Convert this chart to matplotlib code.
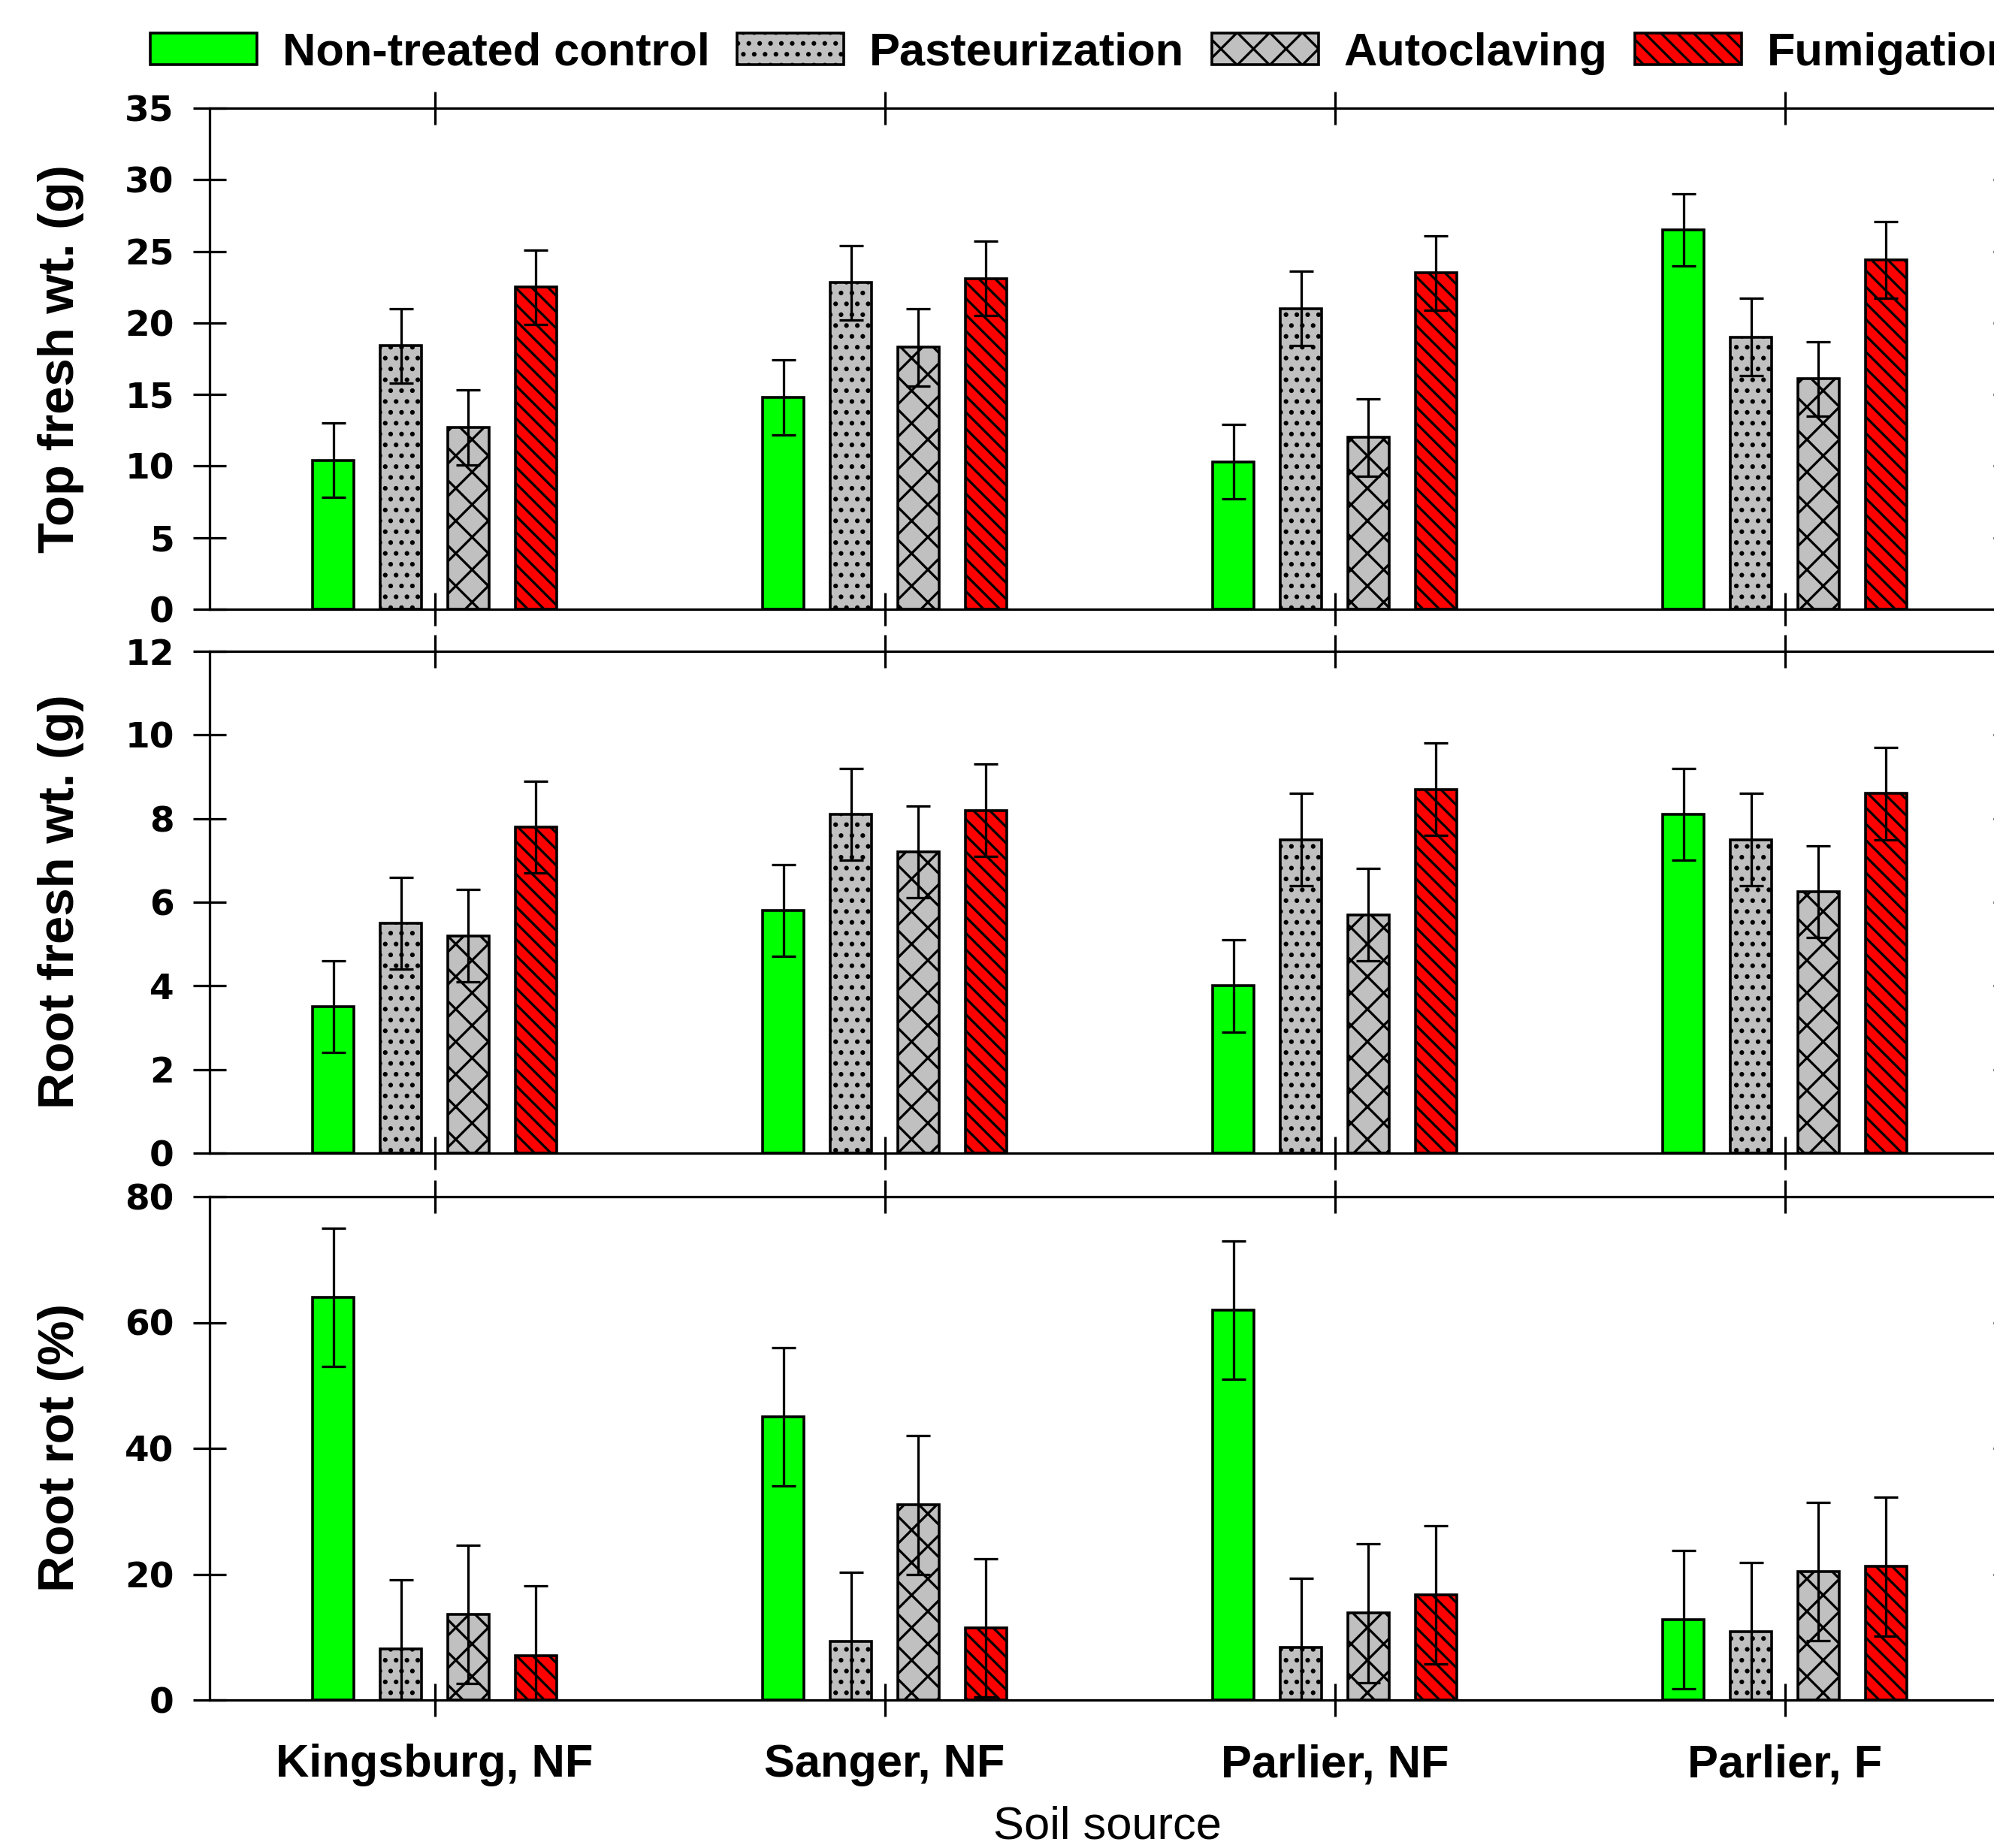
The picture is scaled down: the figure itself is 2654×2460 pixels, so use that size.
import numpy as np
import matplotlib
matplotlib.use("Agg")
import matplotlib.pyplot as plt
from matplotlib.patches import Patch

sites = ["Kingsburg, NF", "Sanger, NF", "Parlier, NF", "Parlier, F"]
treatments = ["Non-treated control", "Pasteurization", "Autoclaving", "Fumigation"]

# top fresh weight (g), per treatment across sites
top_control = [10.4, 14.8, 10.3, 26.5]
top_pasteur = [18.4, 22.8, 21.0, 19.0]
top_autoclave = [12.7, 18.3, 12.0, 16.1]
top_fumig = [22.5, 23.1, 23.5, 24.4]
top_control_err = [2.6, 2.6, 2.6, 2.5]
top_pasteur_err = [2.6, 2.6, 2.6, 2.7]
top_autoclave_err = [2.6, 2.7, 2.7, 2.6]
top_fumig_err = [2.6, 2.6, 2.6, 2.7]

# root fresh weight (g)
root_control = [3.5, 5.8, 4.0, 8.1]
root_pasteur = [5.5, 8.1, 7.5, 7.5]
root_autoclave = [5.2, 7.2, 5.7, 6.25]
root_fumig = [7.8, 8.2, 8.7, 8.6]
root_control_err = [1.1, 1.1, 1.1, 1.1]
root_pasteur_err = [1.1, 1.1, 1.1, 1.1]
root_autoclave_err = [1.1, 1.1, 1.1, 1.1]
root_fumig_err = [1.1, 1.1, 1.1, 1.1]

# root rot (%)
rot_control = [64.0, 45.0, 62.0, 12.8]
rot_pasteur = [8.1, 9.3, 8.3, 10.9]
rot_autoclave = [13.6, 31.0, 13.8, 20.4]
rot_fumig = [7.1, 11.5, 16.7, 21.2]
rot_control_err = [11.0, 11.0, 11.0, 11.0]
rot_pasteur_err = [11.0, 11.0, 11.0, 11.0]
rot_autoclave_err = [11.0, 11.0, 11.0, 11.0]
rot_fumig_err = [11.0, 11.0, 11.0, 11.0]

top_ticks = [0, 5, 10, 15, 20, 25, 30, 35]
root_ticks = [0, 2, 4, 6, 8, 10, 12]
rot_ticks = [0, 20, 40, 60, 80]

plt.rcParams["font.family"] = ["Liberation Sans", "DejaVu Sans"]
plt.rcParams["hatch.linewidth"] = 0.9

DPI = 260
W, H = 2654, 2460
fig = plt.figure(figsize=(W / DPI, H / DPI), dpi=DPI)

colors = ["#00ff00", "#c0c0c0", "#c0c0c0", "#ff0000"]
hatches = [None, "...", "xx", "\\\\\\\\"]
offsets = [-0.225, -0.075, 0.075, 0.225]
bar_w = 0.092
LW = 0.9
x = np.arange(len(sites))


def make_axes(top_px, bottom_px):
    # right spine sits just past the figure edge, as in the cropped original
    left, right = 279, 2675
    return fig.add_axes([left / W, 1 - bottom_px / H,
                         (right - left) / W, (bottom_px - top_px) / H])


def panel(ax, series, errs, ticks, ylabel, label_y, show_sites):
    for i, (vals, err) in enumerate(zip(series, errs)):
        ax.bar(x + offsets[i], vals, bar_w, color=colors[i], edgecolor="black",
               linewidth=1.0, hatch=hatches[i], zorder=1)
        ax.errorbar(x + offsets[i], vals, yerr=err, fmt="none", ecolor="black",
                    elinewidth=LW, capsize=4.4, capthick=LW, zorder=3)
    ax.set_xlim(-0.5, 3.5)
    ax.set_ylim(ticks[0], ticks[-1])
    ax.set_yticks(ticks)
    ax.set_yticklabels([str(t) for t in ticks], fontsize=13,
                       fontweight="bold", family="DejaVu Sans")
    ax.set_xticks(x)
    if show_sites:
        ax.set_xticklabels(sites, fontsize=17, fontweight="bold")
    else:
        ax.set_xticklabels([])
    ax.tick_params(axis="x", direction="inout", length=12.2, width=LW,
                   top=True, bottom=True, pad=10)
    ax.tick_params(axis="y", direction="inout", length=12.2, width=LW,
                   left=True, right=True, pad=7)
    for s in ax.spines.values():
        s.set_linewidth(LW)
    fig.text(81 / W, 1 - label_y / H, ylabel, rotation=90, ha="center",
             va="center", fontsize=18.6, fontweight="bold")


ax1 = make_axes(144, 811)
panel(ax1, [top_control, top_pasteur, top_autoclave, top_fumig],
      [top_control_err, top_pasteur_err, top_autoclave_err, top_fumig_err],
      top_ticks, "Top fresh wt. (g)", 478, False)

ax2 = make_axes(867, 1535)
panel(ax2, [root_control, root_pasteur, root_autoclave, root_fumig],
      [root_control_err, root_pasteur_err, root_autoclave_err, root_fumig_err],
      root_ticks, "Root fresh wt. (g)", 1200, False)

ax3 = make_axes(1593, 2263)
panel(ax3, [rot_control, rot_pasteur, rot_autoclave, rot_fumig],
      [rot_control_err, rot_pasteur_err, rot_autoclave_err, rot_fumig_err],
      rot_ticks, "Root rot (%)", 1927, True)

fig.text(1474 / W, 1 - 2432 / H, "Soil source", ha="center", va="center",
         fontsize=17, family="Liberation Sans")

handles = [Patch(facecolor=c, edgecolor="black", hatch=h, linewidth=1.0)
           for c, h in zip(colors, hatches)]
fig.legend(handles, treatments, loc="center left",
           bbox_to_anchor=(200 / W, 1 - 71 / H), ncol=4, frameon=False,
           borderpad=0, borderaxespad=0, handlelength=2.31, handleheight=0.67,
           handletextpad=0.55, columnspacing=0.6,
           prop={"size": 17, "weight": "bold"})

fig.savefig("out.png", dpi=DPI)
